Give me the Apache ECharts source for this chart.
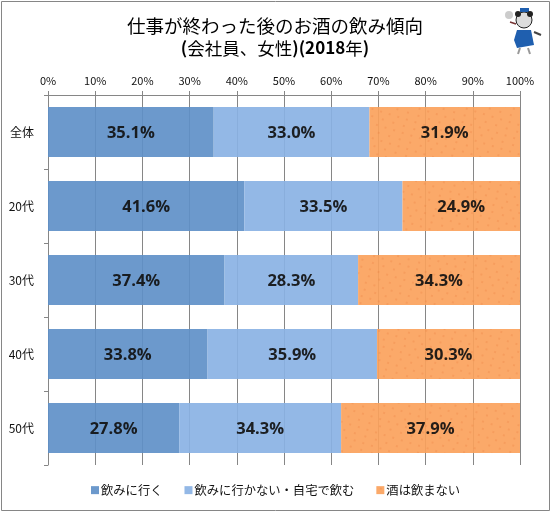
<!DOCTYPE html>
<html><head><meta charset="utf-8">
<style>html,body{margin:0;padding:0;background:#fff}#c{width:551px;height:513px}</style>
<script src="https://cdn.jsdelivr.net/npm/echarts@6/dist/echarts.min.js"></script>
</head><body><div id="c"></div>
<script>
const categories = ['全体','20代','30代','40代','50代'];
const goOut = [35.1,41.6,37.4,33.8,27.8];
const stayHome = [33.0,33.5,28.3,35.9,34.3];
const noDrink = [31.9,24.9,34.3,30.3,37.9];
const seriesNames = ['飲みに行く','飲みに行かない・自宅で飲む','酒は飲まない'];
const FONT = '"Noto Sans CJK JP","Noto Sans",sans-serif';
const label = {show:true,position:'inside',offset:[0,1],formatter:p=>p.value.toFixed(1)+'%',color:'#111',fontSize:16.5,fontWeight:'bold',fontFamily:'"Open Sans","Noto Sans",sans-serif'};
const mk=(name,data,color,extra)=>({name,type:'bar',stack:'t',data,barWidth:50,label,itemStyle:Object.assign({color,opacity:0.92},extra||{}),z:3});
const chart = echarts.init(document.getElementById('c'),null,{renderer:'canvas'});
chart.setOption({
 animation:false,
 backgroundColor:'#fff',
 title:{show:false},
 textStyle:{fontFamily:FONT},
 aria:{enabled:false},
 legend:{left:86,top:479,itemWidth:8,itemHeight:8,itemGap:22,icon:'rect',textStyle:{fontSize:12.3,color:'#111',fontFamily:FONT,padding:[0,0,0,-3]},data:seriesNames},
 grid:{left:48,right:31,top:95,bottom:48,containLabel:false},
 xAxis:{type:'value',position:'top',min:0,max:100,interval:10,
  axisLabel:{formatter:'{value}%',fontSize:11,color:'#111',margin:9,fontFamily:FONT},
  axisLine:{show:true,lineStyle:{color:'#868686'}},
  axisTick:{show:true,length:4,lineStyle:{color:'#868686'}},
  splitLine:{show:true,lineStyle:{color:'#868686',width:1}}},
 yAxis:{type:'category',inverse:true,data:categories,
  axisLabel:{fontSize:12,color:'#111',margin:14,fontFamily:FONT},
  axisLine:{show:true,onZero:false,lineStyle:{color:'#868686'}},
  axisTick:{show:true,length:4,lineStyle:{color:'#868686'}}},
 series:[mk(seriesNames[0],goOut,'#6090C8'),mk(seriesNames[1],stayHome,'#8AB2E4'),
  mk(seriesNames[2],noDrink,'#FBA25C',{decal:{symbol:'circle',symbolSize:0.7,dashArrayX:[[2,7],[0,4,2,5]],dashArrayY:[2,5],rotation:0.3,color:'rgba(225,110,50,0.6)'}})],
 graphic:[
  {type:'rect',silent:true,z:-1,shape:{x:1.5,y:1.5,width:548,height:509},style:{fill:'none',stroke:'#868686',lineWidth:1}},
  {type:'text',z:10,style:{x:275,y:26,text:'仕事が終わった後のお酒の飲み傾向',font:'18.5px '+FONT,fill:'#000',textAlign:'center',textVerticalAlign:'middle'}},
  {type:'text',z:10,style:{x:275,y:48,text:'{b|(}{n|会社員、女性}{b|)(2018}{n|年}{b|)}',fill:'#000',textAlign:'center',textVerticalAlign:'middle',
    rich:{b:{fontSize:17,fontWeight:'bold',fontFamily:FONT,fill:'#000'},n:{fontSize:17.5,fontFamily:FONT,fill:'#000'}}}},
  {type:'group',silent:true,z:10,children:[
    {type:'polygon',shape:{points:[[517,30],[531,30],[534,45],[517,48],[514,40]]},style:{fill:'#1F5FAF'}},
    {type:'circle',shape:{cx:524,cy:20,r:8},style:{fill:'#ddd',stroke:'#222',lineWidth:1}},
    {type:'rect',shape:{x:520,y:8,width:9,height:4},style:{fill:'#1F5FAF'}},
    {type:'circle',shape:{cx:518,cy:14,r:3},style:{fill:'#222'}},
    {type:'circle',shape:{cx:530,cy:14,r:3},style:{fill:'#222'}},
    {type:'circle',shape:{cx:509,cy:15,r:4},style:{fill:'#ccc'}},
    {type:'line',shape:{x1:516,y1:24,x2:510,y2:22},style:{stroke:'#733',lineWidth:1.5}},
    {type:'line',shape:{x1:520,y1:48,x2:518,y2:54},style:{stroke:'#999',lineWidth:2}},
    {type:'line',shape:{x1:528,y1:48,x2:530,y2:54},style:{stroke:'#999',lineWidth:2}},
    {type:'line',shape:{x1:534,y1:32,x2:541,y2:35},style:{stroke:'#444',lineWidth:2}}
  ]}
 ]
});
</script></body></html>
